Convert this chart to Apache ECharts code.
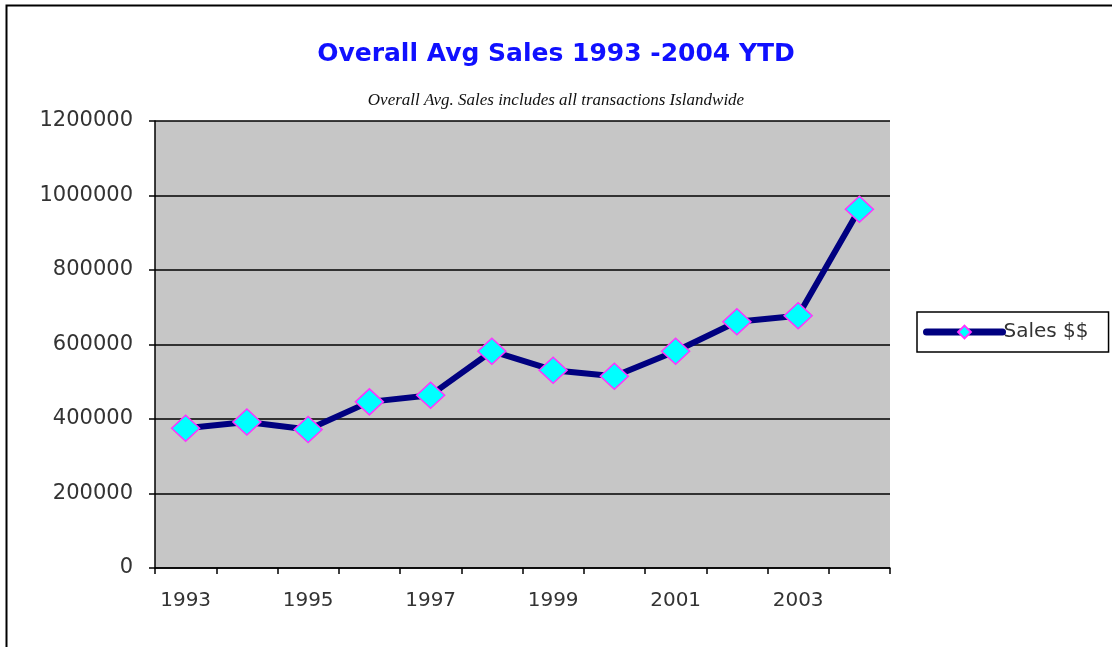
<!DOCTYPE html>
<html>
<head>
<meta charset="utf-8">
<script src="https://cdn.jsdelivr.net/npm/echarts@6/dist/echarts.min.js"></script>
<style>
  html, body { margin: 0; padding: 0; background: #fff; }
  #chart { width: 1112px; height: 647px; }
</style>
</head>
<body>
<div id="chart"></div>
<script>
    // 年份与销售额
    var years = ['1993', '1994', '1995', '1996', '1997', '1998', '1999', '2000', '2001', '2002', '2003', '2004'];
    var sales = [375000, 392000, 372000, 446000, 464000, 582000, 531000, 515000, 582000, 661000, 677000, 963000];
    var yTicks = [0, 200000, 400000, 600000, 800000, 1000000, 1200000];

    var myChart = echarts.init(document.getElementById('chart'));
    var labelFont = 'DejaVu Sans, sans-serif';

    myChart.setOption({
        animation: false,
        title: [{
            text: 'Overall Avg Sales 1993 -2004 YTD',
            left: 'center',
            top: 37,
            textStyle: {color: '#1010ff', fontSize: 25, fontWeight: 'bold', fontFamily: 'DejaVu Sans'}
        }, {
            text: 'Overall Avg. Sales includes all transactions Islandwide',
            left: 'center',
            top: 87,
            textStyle: {color: '#111', fontSize: 17, fontStyle: 'italic', fontWeight: 'normal', fontFamily: 'Liberation Serif'}
        }],
        graphic: [{
            type: 'rect',
            left: 4, top: 3,
            shape: {width: 1200, height: 700},
            style: {fill: 'none', stroke: '#000', lineWidth: 2}
        }],
        legend: {
            data: ['Sales $$'],
            left: 917,
            top: 312,
            orient: 'vertical',
            padding: [10, 20, 10, 6],
            itemWidth: 76,
            itemHeight: 16,
            itemGap: 0,
            borderColor: '#000',
            borderWidth: 1.5,
            lineStyle: {width: 7, cap: 'round'},
            textStyle: {fontSize: 20, color: '#333', fontFamily: labelFont, padding: [0, 0, 0, -4]}
        },
        grid: {
            left: 155,
            right: 222,
            top: 121,
            bottom: 79,
            show: true,
            backgroundColor: '#c6c6c6',
            borderWidth: 0
        },
        xAxis: {
            type: 'category',
            data: years,
            boundaryGap: true,
            axisLine: {lineStyle: {color: '#000', width: 1.5}},
            axisTick: {show: true, interval: 0, length: 6, lineStyle: {color: '#000', width: 1.5}},
            axisLabel: {interval: 1, margin: 23, fontSize: 20, color: '#333', fontFamily: labelFont}
        },
        yAxis: {
            type: 'value',
            min: yTicks[0],
            max: yTicks[yTicks.length - 1],
            interval: 200000,
            axisLine: {show: true, lineStyle: {color: '#000', width: 1.5}},
            axisTick: {show: true, length: 6, lineStyle: {color: '#000', width: 1.5}},
            axisLabel: {
                margin: 22, fontSize: 21, color: '#333', fontFamily: labelFont,
                formatter: function (v) { return String(v); }
            },
            splitLine: {lineStyle: {color: '#000', width: 1.5}}
        },
        series: [{
            name: 'Sales $$',
            type: 'line',
            data: sales,
            symbol: 'diamond',
            symbolSize: [28, 26],
            lineStyle: {color: '#000080', width: 6},
            itemStyle: {color: '#00ffff', borderColor: '#ff33ff', borderWidth: 1.5}
        }]
    });
</script>
</body>
</html>
